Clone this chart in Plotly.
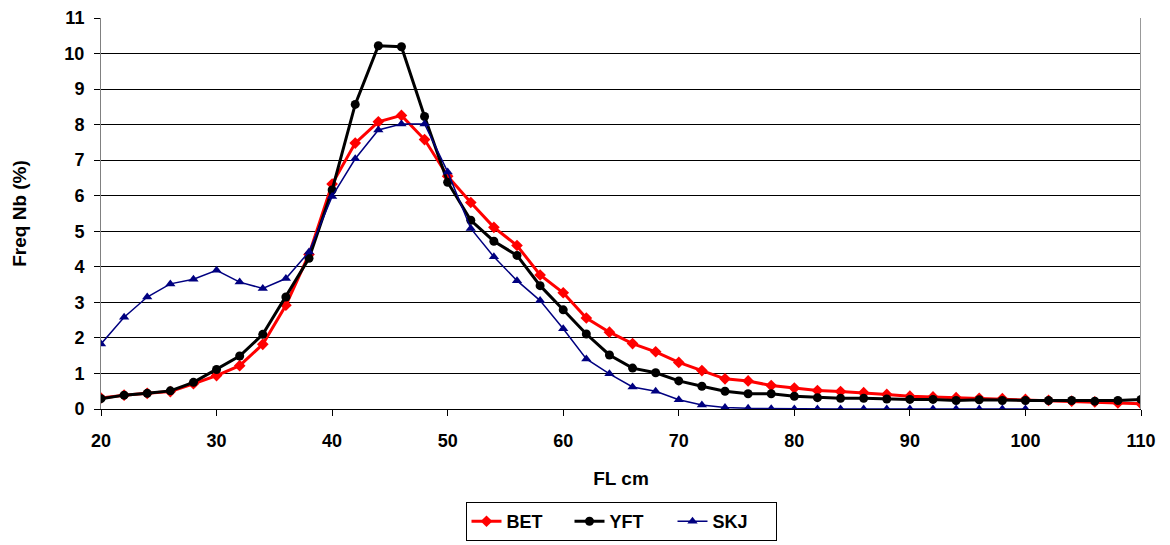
import plotly.graph_objects as go

fl_bet_yft = list(range(20, 111, 2))
fl_skj = list(range(20, 101, 2))

bet = [0.31, 0.39, 0.44, 0.49, 0.71, 0.94, 1.22, 1.82, 2.92, 4.35,
       6.33, 7.48, 8.08, 8.26, 7.58, 6.55, 5.81, 5.11, 4.6, 3.77,
       3.27, 2.56, 2.16, 1.84, 1.61, 1.31, 1.08, 0.85, 0.79, 0.66,
       0.59, 0.52, 0.49, 0.46, 0.41, 0.36, 0.34, 0.32, 0.3, 0.29,
       0.27, 0.24, 0.22, 0.2, 0.17, 0.15]
yft = [0.29, 0.39, 0.44, 0.51, 0.75, 1.11, 1.49, 2.1, 3.15, 4.24,
       6.16, 8.57, 10.22, 10.19, 8.23, 6.38, 5.31, 4.72, 4.32, 3.47,
       2.79, 2.11, 1.52, 1.15, 1.02, 0.79, 0.64, 0.5, 0.43, 0.43,
       0.36, 0.32, 0.3, 0.3, 0.28, 0.27, 0.27, 0.24, 0.26, 0.24,
       0.24, 0.24, 0.24, 0.22, 0.24, 0.27]
skj = [1.83, 2.58, 3.15, 3.52, 3.65, 3.9, 3.57, 3.39, 3.67, 4.42,
       5.98, 7.04, 7.85, 8.02, 8.02, 6.67, 5.08, 4.28, 3.61, 3.05,
       2.26, 1.41, 0.99, 0.62, 0.5, 0.26, 0.11, 0.04, 0.02, 0.01,
       0.0, 0.0, 0.0, 0.0, 0.0, 0.0, 0.0, 0.0, 0.0, 0.0, 0.0]

x_ticks = list(range(20, 111, 10))
y_ticks = list(range(0, 12))

fig = go.Figure()
fig.add_trace(go.Scatter(x=fl_bet_yft, y=bet, name="BET", mode="lines+markers",
                         line=dict(color="#ff0000", width=3),
                         marker=dict(symbol="diamond", size=9, color="#ff0000")))
fig.add_trace(go.Scatter(x=fl_bet_yft, y=yft, name="YFT", mode="lines+markers",
                         line=dict(color="#000000", width=3),
                         marker=dict(symbol="circle", size=9, color="#000000")))
fig.add_trace(go.Scatter(x=fl_skj, y=skj, name="SKJ", mode="lines+markers",
                         line=dict(color="#000080", width=1.5),
                         marker=dict(symbol="triangle-up", size=9, color="#000080")))

font_main = "Liberation Sans, Arial, sans-serif"
# page body has an 8px default margin, so the figure is sized to fit the window
fig.update_layout(
    width=1162, height=537,
    margin=dict(l=93, r=29, t=10, b=136),
    plot_bgcolor="white", paper_bgcolor="white",
    font=dict(family=font_main, size=17, color="black"),
    showlegend=True,
    legend=dict(orientation="h", x=0.5, xanchor="center", xref="paper",
                y=0.08, yanchor="top", yref="container",
                bordercolor="black", borderwidth=1,
                font=dict(family=font_main, size=18, color="black", weight="bold"),
                itemwidth=30, tracegroupgap=0,
                entrywidth=58, entrywidthmode="pixels"),
    xaxis=dict(range=[20, 110], tickvals=x_ticks, ticktext=[str(v) for v in x_ticks],
               automargin=False,
               showgrid=False, zeroline=False, showline=True, linecolor="black", linewidth=1,
               ticks="outside", ticklen=6, tickcolor="black", ticklabelstandoff=9,
               tickfont=dict(family=font_main, size=18, weight="bold"),
               title=dict(text="FL cm", font=dict(family=font_main, size=19, weight="bold"),
                          standoff=22)),
    yaxis=dict(range=[0, 11], tickvals=y_ticks, ticktext=[str(v) for v in y_ticks],
               automargin=False,
               showgrid=True, gridcolor="black", gridwidth=1,
               zeroline=False, showline=True, linecolor="#808080", linewidth=1,
               ticks="outside", ticklen=6, tickcolor="black", ticklabelstandoff=6,
               tickfont=dict(family=font_main, size=18, weight="bold"),
               title=dict(text="Freq Nb (%)", font=dict(family=font_main, size=19, weight="bold"),
                          standoff=32)),
)
fig.add_shape(type="line", xref="x", yref="paper", x0=110, x1=110, y0=0, y1=1,
              line=dict(color="#999999", width=2))

fig.write_html("out.html")
